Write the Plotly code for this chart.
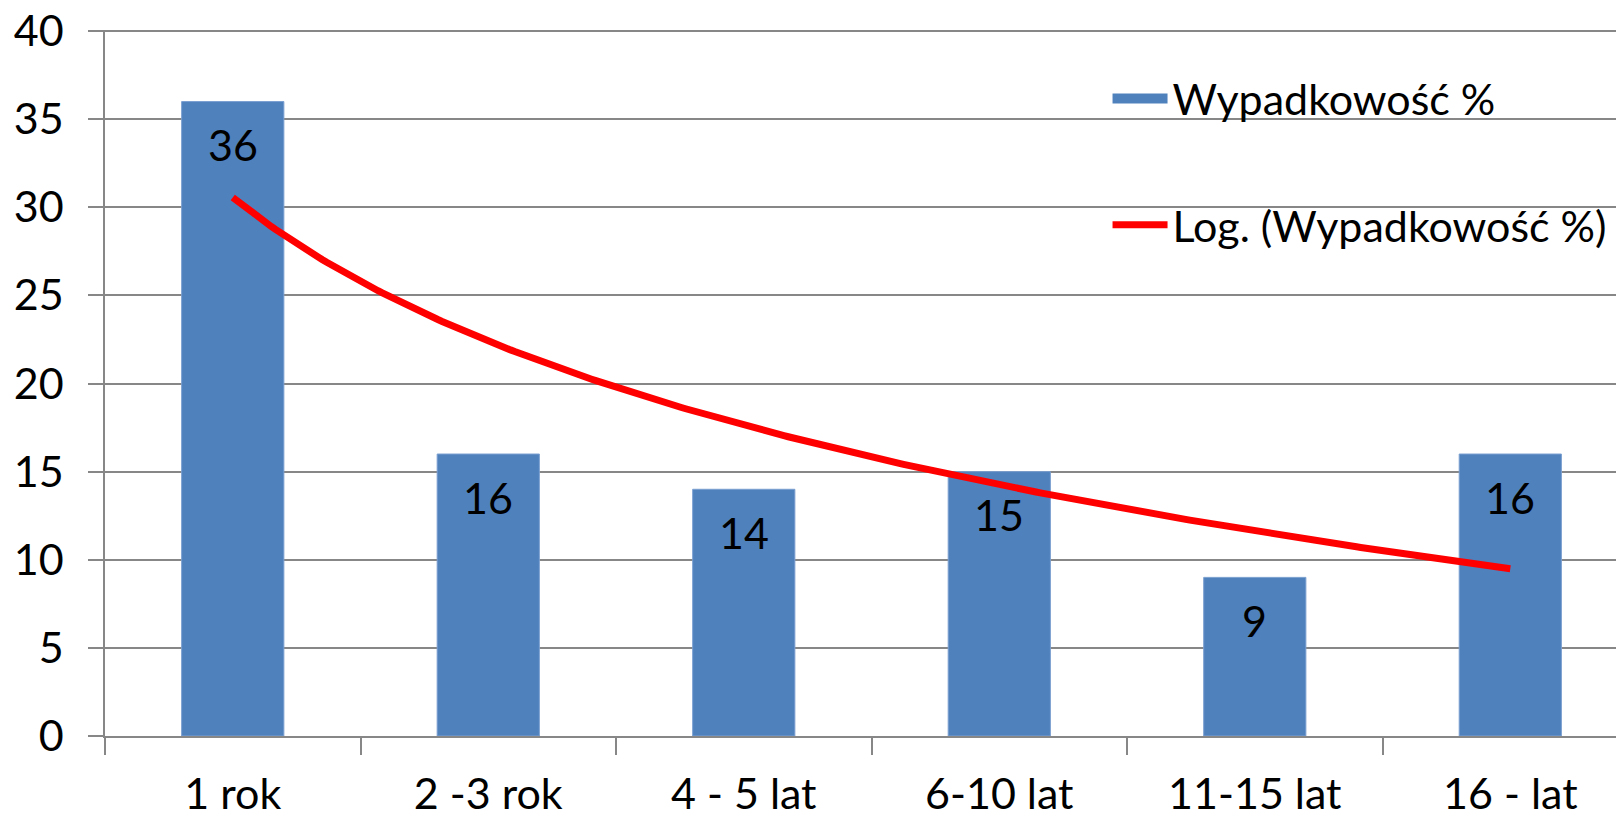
import numpy as np
import plotly.graph_objects as go

categories = ["1 rok", "2 -3 rok", "4 - 5 lat", "6-10 lat", "11-15 lat", "16 - lat"]
values = [36, 16, 14, 15, 9, 16]
y_ticks = [0, 5, 10, 15, 20, 25, 30, 35, 40]
bar_name = "Wypadkowość %"
trend_name = "Log. (Wypadkowość %)"

FONT = "Lato"
FS = 43
GRID = "#878787"
BLUE = "#4F81BD"

# Logarithmic trendline (least squares fit y = a + b*ln(x)), as in the original chart
xi = np.arange(1, len(values) + 1)
b, a = np.polyfit(np.log(xi), np.array(values, dtype=float), 1)
xs = np.linspace(1, len(values), 300)
ys = a + b * np.log(xs)
xs_pos = xs - 1  # category index positions on the overlay axis

XR = [-0.5, 5.445]
YR = [0, 40.06]

fig = go.Figure()
fig.add_trace(go.Bar(
    x=categories, y=values, name=bar_name, showlegend=False,
    marker=dict(color=BLUE, line=dict(color="#7A9FD0", width=1)),
    width=0.4,
))
# legend swatch for the bar series (wide block like the original)
fig.add_trace(go.Scatter(
    x=[None], y=[None], mode="lines", name=bar_name,
    line=dict(color=BLUE, width=29), legend="legend",
))
fig.add_trace(go.Scatter(
    x=xs_pos, y=ys, mode="lines", name=trend_name, xaxis="x2",
    line=dict(color="#FF0000", width=7), legend="legend2",
))

for c, v in zip(categories, values):
    fig.add_annotation(x=c, y=v, text=str(v), showarrow=False, yshift=-43,
                       yanchor="middle", font=dict(family=FONT, size=FS, color="black"))

# page body has an 8px margin, so the figure is sized/offset to compensate
fig.update_layout(
    width=1616, height=810,
    margin=dict(l=97, r=0, t=22, b=82),
    paper_bgcolor="white", plot_bgcolor="white",
    font=dict(family=FONT, size=FS, color="black"),
    showlegend=True,
    legend=dict(x=0.66, y=0.903, xanchor="left", yanchor="middle",
                font=dict(family=FONT, size=FS), itemwidth=55, bgcolor="rgba(0,0,0,0)"),
    legend2=dict(x=0.66, y=0.724, xanchor="left", yanchor="middle",
                 font=dict(family=FONT, size=FS), itemwidth=55, bgcolor="rgba(0,0,0,0)"),
    xaxis2=dict(overlaying="x", range=XR, visible=False, type="linear"),
)
fig.update_layout(xaxis=dict(
    type="category", range=XR, showgrid=False, showline=True, linecolor=GRID, linewidth=1.5,
    ticks="outside", ticklen=17, tickcolor=GRID, tickwidth=1.5, tickson="boundaries",
    ticklabelstandoff=20, zeroline=False, automargin=False,
))
fig.update_yaxes(
    range=YR, tickmode="array", tickvals=y_ticks, showgrid=True, gridcolor=GRID, gridwidth=1.5,
    showline=True, linecolor=GRID, linewidth=1.5, ticks="outside", ticklen=15, tickcolor=GRID,
    tickwidth=1.5, ticklabelstandoff=16, zeroline=False, automargin=False,
    ticklabeloverflow="allow",
)

fig.write_html("out.html")
